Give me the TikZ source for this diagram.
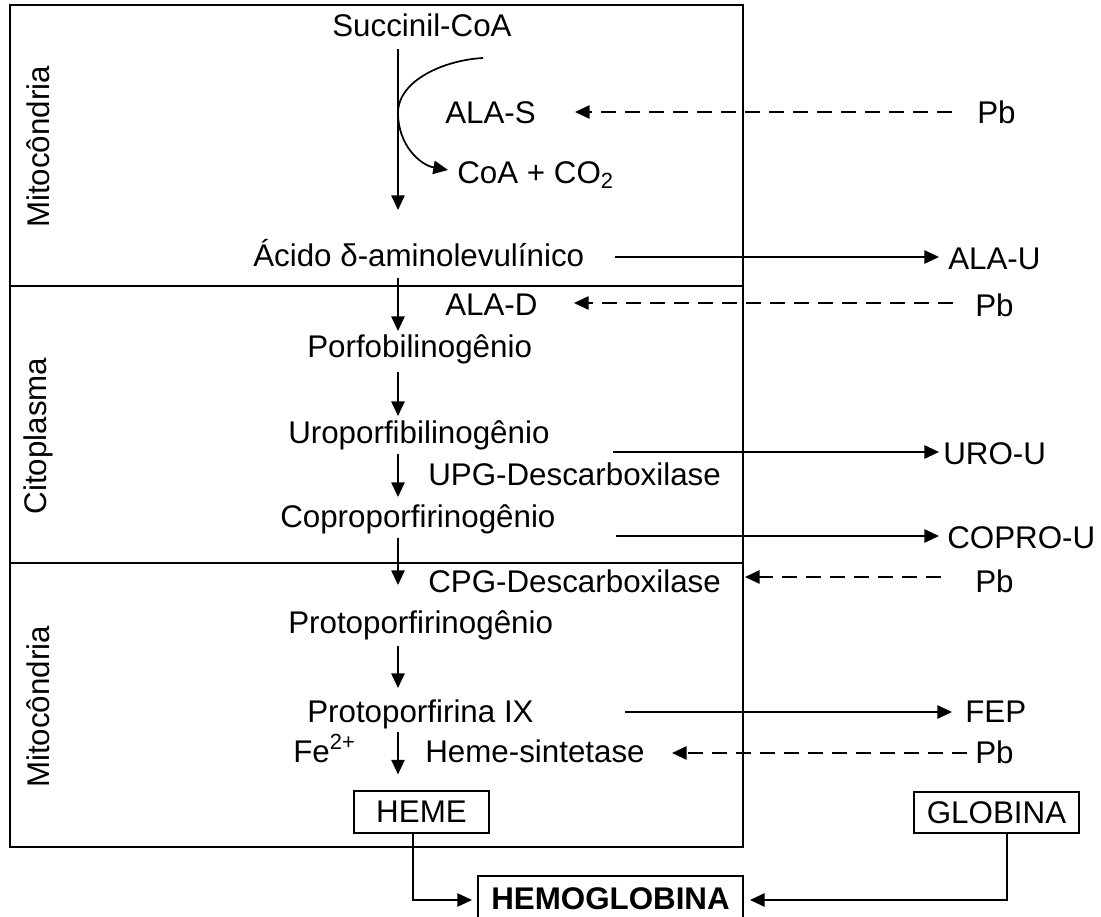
\documentclass[tikz,border=0pt]{standalone}
\usepackage{fontspec}
\setmainfont{Liberation Sans}
\usetikzlibrary{arrows.meta,calc}
\begin{document}
\begin{tikzpicture}[x=0.75pt,y=-0.75pt,
  txt/.style={anchor=base west,inner sep=0pt,font=\fontsize{23.5}{28}\selectfont},
  lab/.style={rotate=90,inner sep=0pt,font=\fontsize{23.5}{28}\selectfont},
  arr/.style={line width=1.3pt,-{Triangle[length=11pt,width=10pt]}},
  inh/.style={arr,dash pattern=on 11.5pt off 6.5pt},
  frame/.style={line width=1.9pt},
  sbox/.style={draw,line width=0.8pt,inner sep=0pt,font=\fontsize{23.5}{28}\selectfont}]
\useasboundingbox (0,0) rectangle (1101,917);

% compartments
\draw[frame] (10,5) rectangle (743,847);
\draw[frame] (10,286) -- (743,286);
\draw[frame] (10,563) -- (743,563);
\node[lab] (mito1) at (38,147) {Mitocôndria};
\node[lab] (cito) at (38,436) {Citoplasma};
\node[lab] (mito2) at (38,707) {Mitocôndria};

% texts
\node[txt] (succ) at (332,37) {Succinil-CoA};
\node[txt] (alas) at (445,123) {ALA-S};
\node[txt] (coa) at (457,184) {CoA + CO\textsubscript{2}};
\node[txt] (pb1) at (977,123) {Pb};
\node[txt] (acido) at (253,267) {Ácido δ-aminolevulínico};
\node[txt] (alau) at (948,269) {ALA-U};
\node[txt] (alad) at (445,315) {ALA-D};
\node[txt] (pb2) at (975,316) {Pb};
\node[txt] (porfo) at (307,357) {Porfobilinogênio};
\node[txt] (uro) at (288,443) {Uroporfibilinogênio};
\node[txt] (urou) at (943,464) {URO-U};
\node[txt] (upg) at (428,485) {UPG-Descarboxilase};
\node[txt] (copro) at (280,527) {Coproporfirinogênio};
\node[txt] (coprou) at (947,548) {COPRO-U};
\node[txt] (cpg) at (428,592) {CPG-Descarboxilase};
\node[txt] (pb3) at (975,592) {Pb};
\node[txt] (protog) at (288,633) {Protoporfirinogênio};
\node[txt] (protoix) at (307,722) {Protoporfirina IX};
\node[txt] (fep) at (965,722) {FEP};
\node[txt] (fe) at (293,762) {Fe\textsuperscript{2+}};
\node[txt] (hs) at (425,762) {Heme-sintetase};
\node[txt] (pb4) at (975,763) {Pb};
\node[sbox,minimum width=101.25pt,minimum height=31.5pt] (heme) at (421.5,812) {HEME};
\node[sbox,minimum width=123.75pt,minimum height=30.75pt] (globina) at (996.5,812.5) {GLOBINA};

% HEMOGLOBINA: box runs off the bottom edge, as in the reference
\node[inner sep=0pt,font=\fontsize{23.5}{28}\selectfont\bfseries] (hglob) at (610.5,898.5) {HEMOGLOBINA};
\coordinate (hgL) at (478,900);
\coordinate (hgR) at (743,900);
\draw[line width=0.8pt] (478,930) -- (478,876) -- (743,876) -- (743,930);

% connectors
\draw[arr] ($(succ.base west)+(66,12)$) -- ($(acido.base west)+(145,-57)$);
\draw[arr] ($(succ.base west)+(151,21)$) .. controls +(-38,2) and +(0,-33) .. ($(alas.base west)+(-47,-10)$)
           .. controls +(0,32) and +(-28,-5) .. ($(coa.base west)+(-9,-14)$);
\draw[inh] ($(pb1.base west)+(-25,-11)$) -- ($(alas.base west)+(130,-11)$);
\draw[arr] ($(acido.base west)+(362,-10)$) -- ($(alau.base west)+(-9,-12)$);
\draw[arr] ($(acido.base west)+(145,11)$) -- ($(alad.base west)+(-47,16)$);
\draw[inh] ($(pb2.base west)+(-22,-13)$) -- ($(alad.base west)+(129,-12)$);
\draw[arr] ($(porfo.base west)+(91,15)$) -- ($(uro.base west)+(110,-27)$);
\draw[arr] ($(uro.base west)+(325,9)$) -- ($(urou.base west)+(-4,-12)$);
\draw[arr] ($(uro.base west)+(110,11)$) -- ($(copro.base west)+(118,-30)$);
\draw[arr] ($(copro.base west)+(336,9)$) -- ($(coprou.base west)+(-8,-12)$);
\draw[arr] ($(copro.base west)+(118,11)$) -- ($(cpg.base west)+(-30,-7)$);
\draw[inh] ($(pb3.base west)+(-34,-15)$) -- ($(cpg.base west)+(317,-15)$);
\draw[arr] ($(protog.base west)+(110,13)$) -- ($(protoix.base west)+(91,-34)$);
\draw[arr] ($(protoix.base west)+(318,-10)$) -- ($(fep.base west)+(-13,-10)$);
\draw[arr] ($(protoix.base west)+(91,10)$) -- ($(heme.north)+(-23.5,-16)$);
\draw[inh] ($(pb4.base west)+(-8,-10)$) -- ($(hs.base west)+(247,-9)$);
\draw[arr] ($(heme.south)+(-8.5,0)$) |- ($(hgL)+(-6,0)$);
\draw[arr] ($(globina.south)+(10.5,0)$) |- ($(hgR)+(7,0)$);
\end{tikzpicture}
\end{document}
